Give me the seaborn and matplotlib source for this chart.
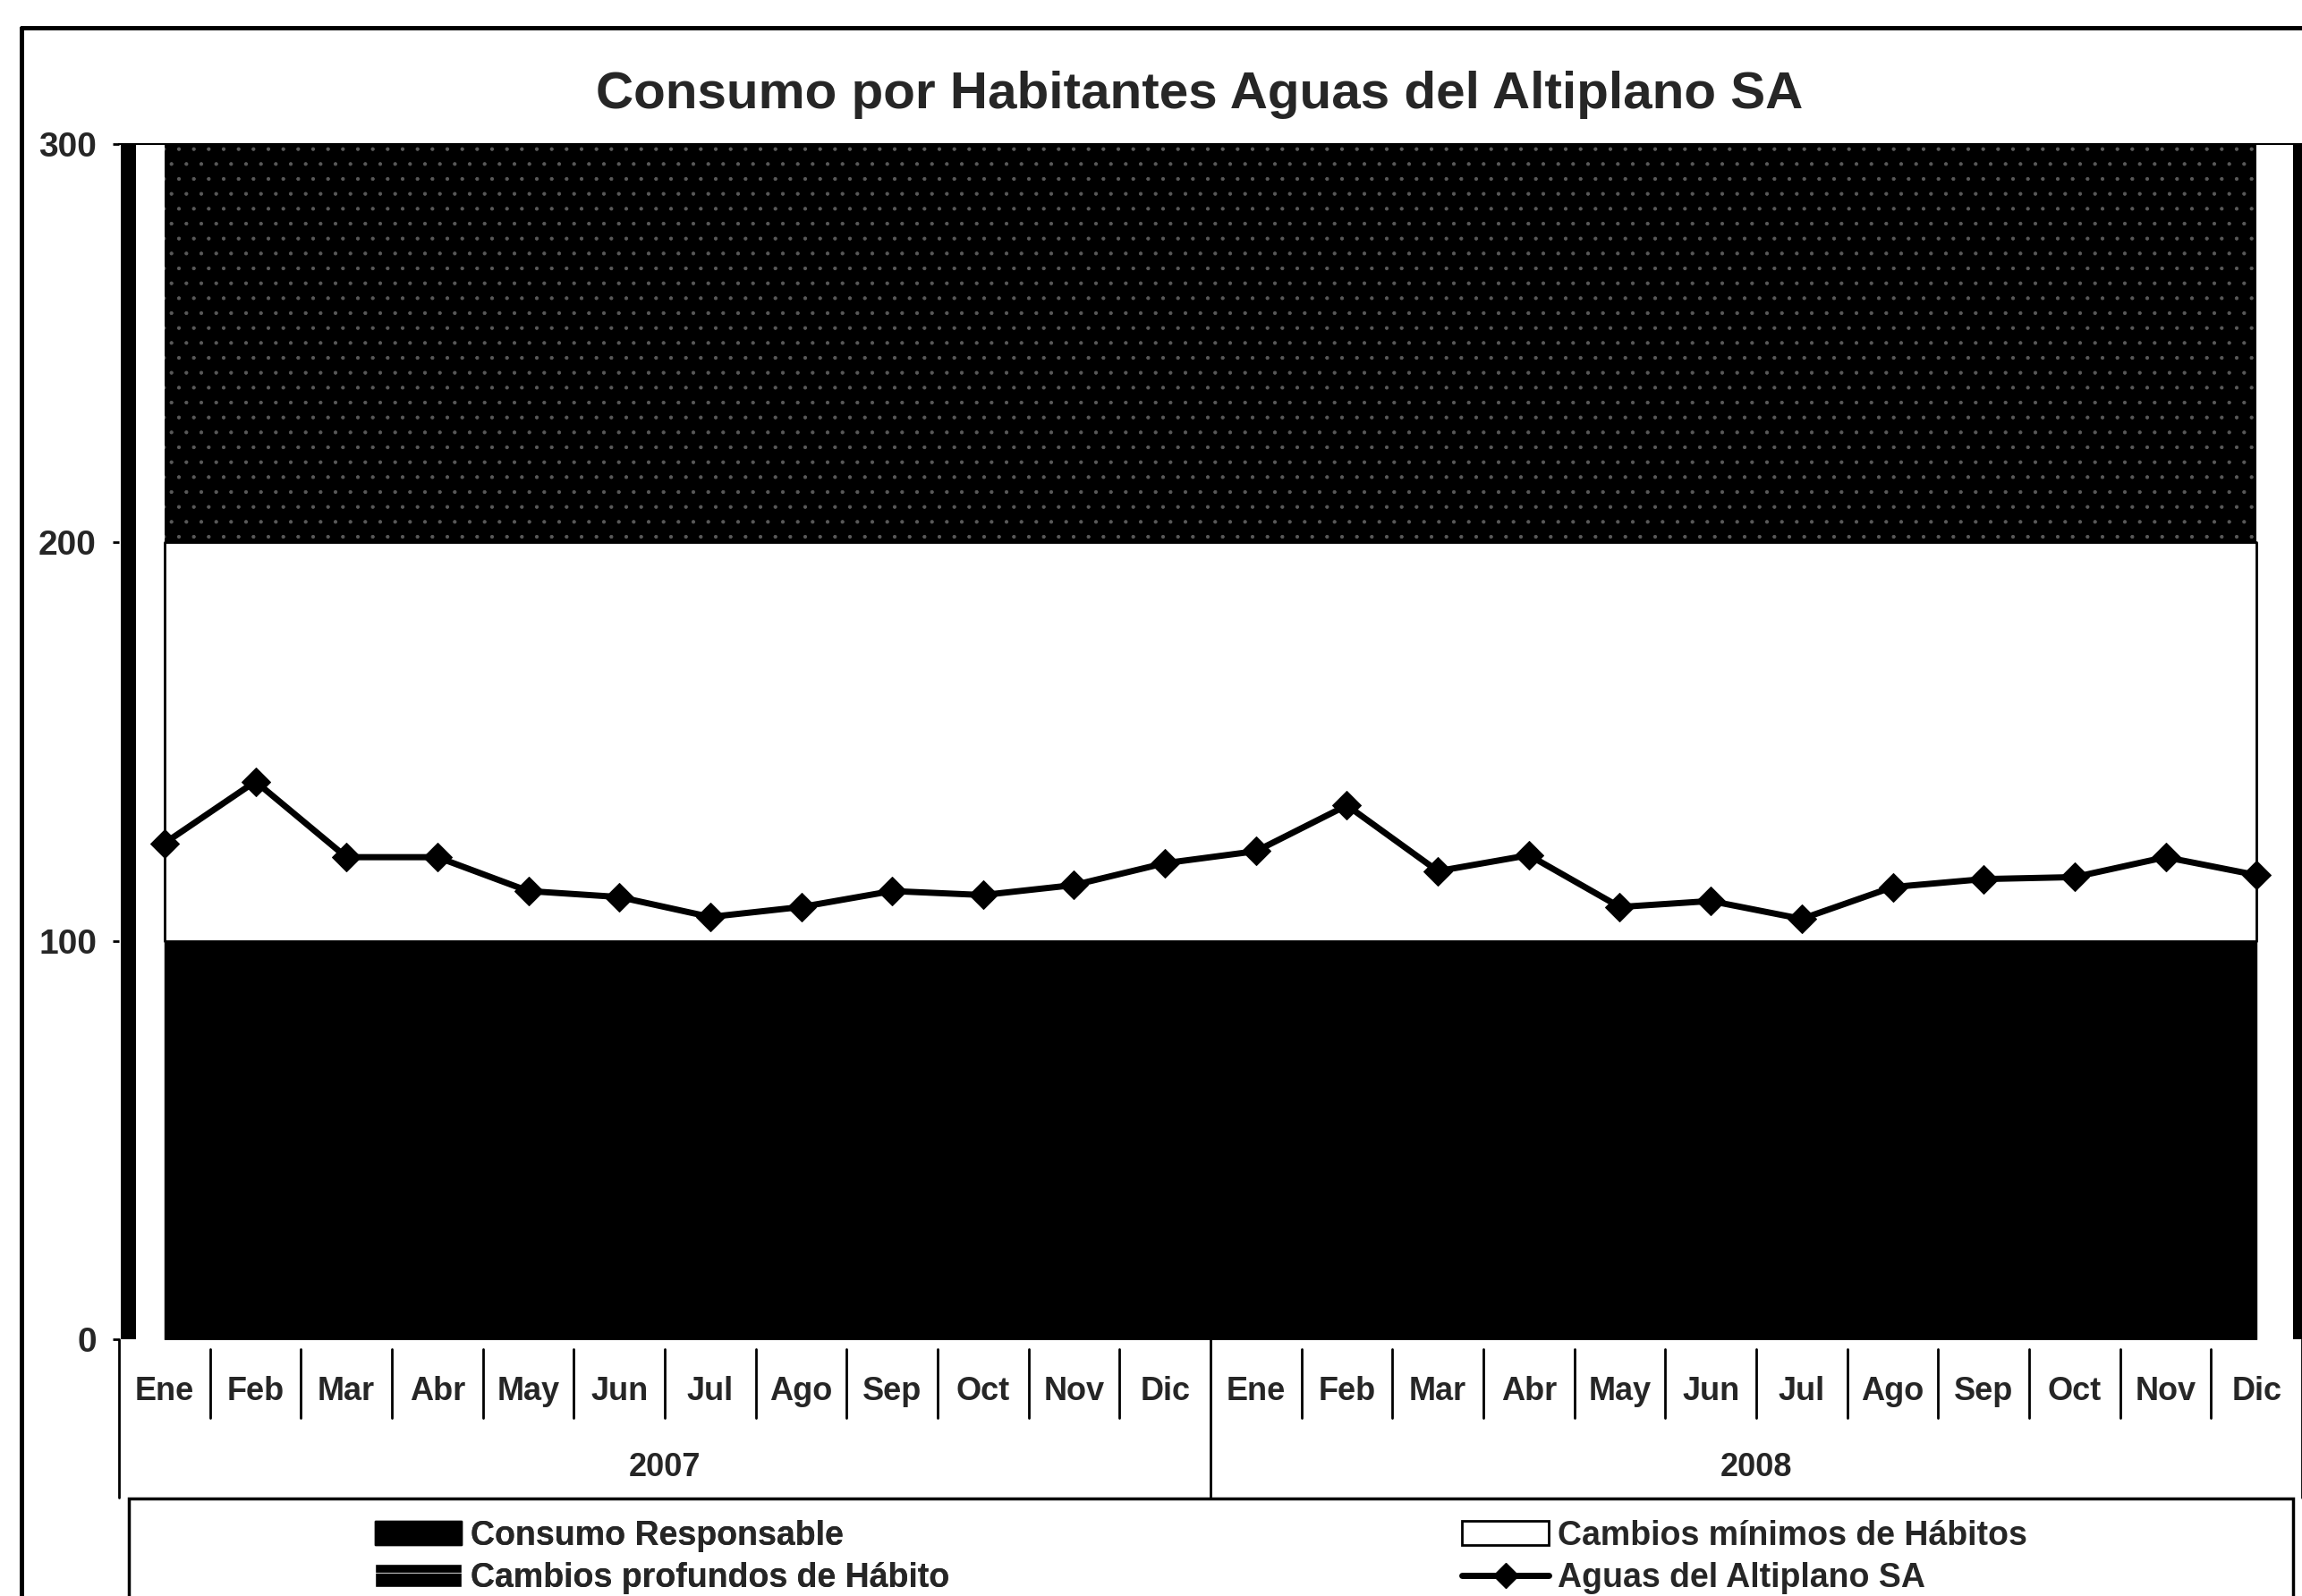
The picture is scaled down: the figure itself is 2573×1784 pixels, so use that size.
import numpy as np                  # numerische Arrays
import matplotlib
matplotlib.use("Agg")
import matplotlib.pyplot as plt     # Plotting
import seaborn as sns               # Linienplot
from matplotlib.patches import Patch, Rectangle
from matplotlib.lines import Line2D

# ---------------------------------------------------------------------------
# Daten
# ---------------------------------------------------------------------------
meses = ["Ene", "Feb", "Mar", "Abr", "May", "Jun", "Jul", "Ago", "Sep", "Oct", "Nov", "Dic"]
anios = ["2007", "2008"]
etiquetas_mes = meses + meses

# Baender des gestapelten Flaechendiagramms (je Monat)
consumo_responsable = [100, 100, 100, 100, 100, 100, 100, 100, 100, 100, 100, 100,
                       100, 100, 100, 100, 100, 100, 100, 100, 100, 100, 100, 100]
cambios_minimos = [100, 100, 100, 100, 100, 100, 100, 100, 100, 100, 100, 100,
                   100, 100, 100, 100, 100, 100, 100, 100, 100, 100, 100, 100]
cambios_profundos = [100, 100, 100, 100, 100, 100, 100, 100, 100, 100, 100, 100,
                     100, 100, 100, 100, 100, 100, 100, 100, 100, 100, 100, 100]

# Verbrauch Aguas del Altiplano SA
aguas_altiplano = [124.5, 140.0, 121.0, 121.0, 112.5, 111.0, 106.0, 108.5, 112.5, 111.5, 114.0, 119.5,
                   122.5, 134.0, 117.5, 121.5, 108.5, 110.0, 105.5, 113.5, 115.5, 116.0, 121.0, 116.5]

y_ticks = [0, 100, 200, 300]
titulo = "Consumo por Habitantes Aguas del Altiplano SA"

W, H = 2573, 1784  # Bildgroesse in Pixeln


def main():
    sns.set_style("white")
    plt.rcParams['font.family'] = ['Liberation Sans', 'DejaVu Sans']
    plt.rcParams['hatch.linewidth'] = 0.6

    fig = plt.figure(figsize=(W / 100, H / 100), dpi=100)
    ax = fig.add_axes([133 / W, 1 - 1497 / H, (W - 133) / W, (1497 - 161) / H])

    x = np.arange(len(aguas_altiplano))
    b1 = np.array(consumo_responsable, dtype=float)
    b2 = b1 + np.array(cambios_minimos)
    b3 = b2 + np.array(cambios_profundos)

    # gestapelte Flaechen
    ax.fill_between(x, 0, b1, facecolor="black", edgecolor="black", lw=1)
    ax.fill_between(x, b1, b2, facecolor="white", edgecolor="black", lw=2)
    # oberes Band: schwarz mit leichter Koernung (Scan)
    ax.fill_between(x, b2, b3, facecolor="black", edgecolor="#5a5a5a", hatch=".", lw=0)

    # Linie mit Rauten
    sns.lineplot(x=x, y=aguas_altiplano, ax=ax, color="black", linewidth=5,
                 marker="D", markersize=16, markeredgecolor="black", legend=False)

    ax.set_xlim(-0.5, len(x) - 0.5)
    ax.set_ylim(0, 300)

    # dicke schwarze Raender links / rechts (wie im Scan)
    cat_w = (W - 133) / len(x)
    ax.axvspan(-0.5 + 2 / cat_w, -0.5 + 19 / cat_w, color="black", lw=0)
    ax.axvspan(len(x) - 0.5 - 10 / cat_w, len(x) - 0.5, color="black", lw=0)

    for side in ["left", "right", "bottom"]:
        ax.spines[side].set_visible(False)
    ax.spines["top"].set_linewidth(1.5)
    ax.spines["top"].set_color("black")

    # y-Achse
    ax.set_yticks(y_ticks)
    ax.set_yticklabels([str(v) for v in y_ticks], fontsize=28, fontweight="bold")
    ax.tick_params(axis="y", length=5, width=2, direction="out", pad=13, left=True, color="black")

    # x-Achse: Monate
    ax.set_xticks(x)
    ax.set_xticklabels(etiquetas_mes, fontsize=26, fontweight="bold")
    ax.tick_params(axis="x", length=0, pad=42)
    for lbl in ax.get_xticklabels():
        lbl.set_va("center")

    trans = ax.get_xaxis_transform()
    y_mes = (1497 - 1585) / (1497 - 161)
    y_mes_top = (1497 - 1508) / (1497 - 161)
    y_anio = (1497 - 1674) / (1497 - 161)
    for i in range(len(x) + 1):
        borde = i - 0.5
        if i % 12 == 0:
            ax.plot([borde, borde], [0, y_anio], transform=trans, color="black", lw=2, clip_on=False)
        else:
            ax.plot([borde, borde], [y_mes_top, y_mes], transform=trans, color="black", lw=2, clip_on=False)

    # Jahreszahlen
    y_txt = (1497 - 1641) / (1497 - 161)
    for j, anio in enumerate(anios):
        ax.text(j * 12 + 5.5, y_txt, anio, transform=trans, ha="center", va="center",
                fontsize=26, fontweight="bold")

    # Titel
    fig.text(1341 / W, 1 - 121 / H, titulo, ha="center", va="baseline",
             fontsize=42, fontweight="bold")

    # Legende (zwei Spalten als zwei Legenden)
    fs = 27
    opts = dict(loc="upper left", frameon=False, borderpad=0,
                handlelength=2.6, handleheight=0.72, handletextpad=0.25, labelspacing=0.3,
                prop={"weight": "bold", "size": fs})
    h1 = [Patch(facecolor="black", edgecolor="black"),
          Patch(facecolor="black", edgecolor="white", hatch="-")]
    l1 = ["Consumo Responsable", "Cambios profundos de Hábito"]
    h2 = [Patch(facecolor="white", edgecolor="black", lw=2),
          Line2D([0], [0], color="black", lw=5, marker="D", markersize=14)]
    l2 = ["Cambios mínimos de Hábitos", "Aguas del Altiplano SA"]
    leg1 = fig.legend(h1, l1, bbox_to_anchor=(400 / W, 1 - 1680 / H), **opts)
    fig.legend(h2, l2, bbox_to_anchor=(1615 / W, 1 - 1680 / H), **opts)
    fig.add_artist(leg1)

    # Rahmen der Legende
    fig.add_artist(Rectangle((144 / W, -0.05), (2563 - 144) / W, 0.05 + 1 - 1675 / H,
                             transform=fig.transFigure, fill=False, edgecolor="black", lw=2.5))
    # aeusserer Diagrammrahmen (links und oben)
    fig.add_artist(Line2D([24 / W, 24 / W], [0, 1 - 31 / H], transform=fig.transFigure,
                          color="black", lw=3.5))
    fig.add_artist(Line2D([24 / W, 1], [1 - 31 / H, 1 - 31 / H], transform=fig.transFigure,
                          color="black", lw=3.5))

    fig.savefig("out.png", dpi=100, facecolor="white")
    plt.close(fig)


if __name__ == "__main__":
    main()
